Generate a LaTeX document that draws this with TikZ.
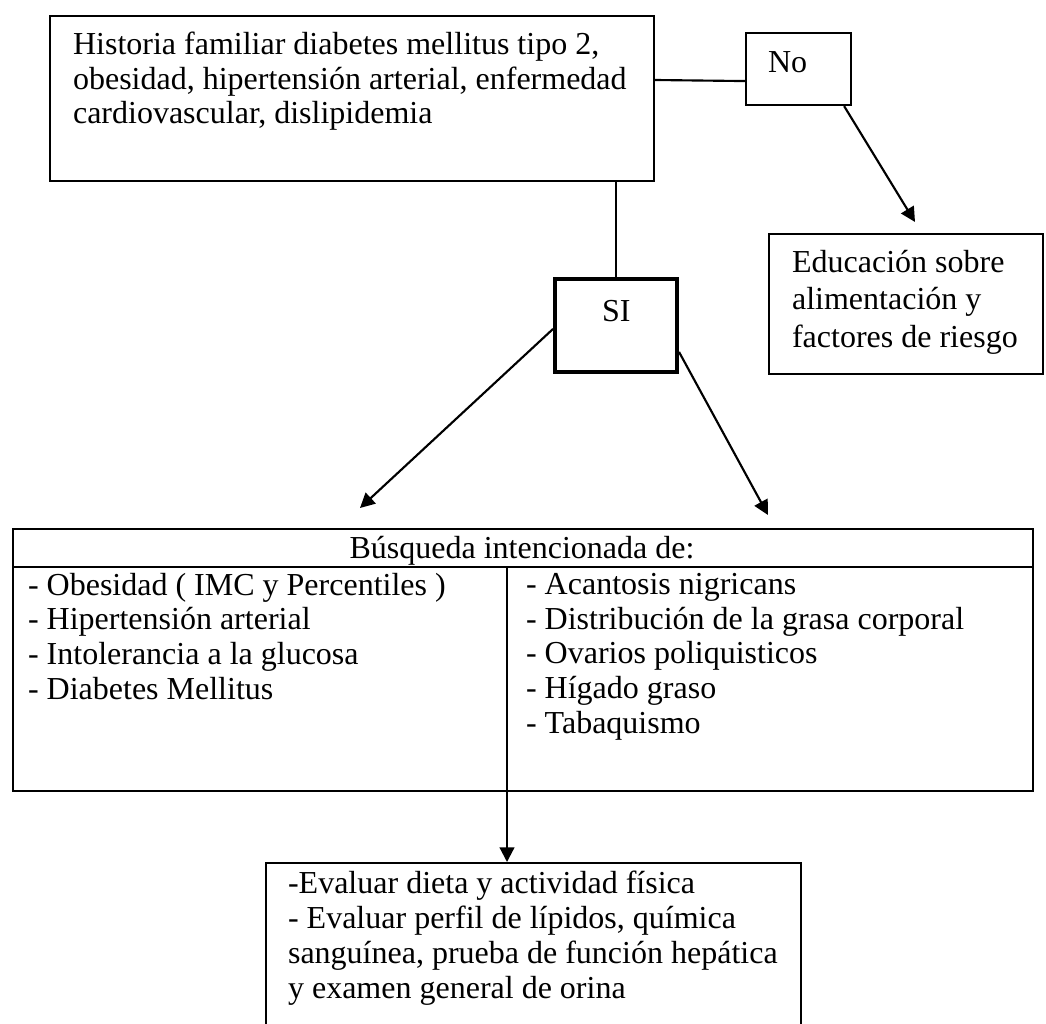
\documentclass[tikz,border=0pt]{standalone}
\usepackage{fontspec}
\setmainfont{Liberation Serif}
\usetikzlibrary{arrows.meta,calc}

\tikzset{
  box/.style={draw, line width=0.8pt, anchor=north west, inner sep=0pt},
  wh/.style 2 args={minimum width=#1*0.375pt, minimum height=#2*0.375pt},
  txt/.style={anchor=base west, align=left, inner sep=0pt, font=\fontsize{12}{13.1}\selectfont},
}

\begin{document}
\begin{tikzpicture}[x=0.375pt, y=-0.375pt, line width=0.8pt,
  >={Triangle[length=5.5pt,width=5.5pt]}]
  \useasboundingbox (0,0) rectangle (1046,1023);
  % ------- top: family history and the two answers -------
  % (multi-line texts are placed by the baseline of their last line)
  \node[box, wh={604}{165}] (historia) at (49,15) {};
  \node[txt] (historiatxt) at (72,124) {Historia familiar diabetes mellitus tipo 2,\\
    obesidad, hipertensión arterial, enfermedad\\ cardiovascular, dislipidemia};
  \node[box, wh={105}{72}] (no) at (745,32) {};
  \node[txt] (notxt) at (767,73) {No};
  \node[box, wh={122}{93}, line width=1.5pt] (si) at (553,277) {};
  \node[txt] (sitxt) at (601,321) {SI};
  \node[box, wh={274}{140}] (edu) at (768,233) {};
  \node[txt, font=\fontsize{12}{13.9}\selectfont] (edutxt) at (791,347)
    {Educación sobre\\ alimentación y\\ factores de riesgo};
  \draw (historia.east |- 0,80) -- ([yshift=-4.5pt]no.west);
  \draw (historia.south -| si.north) -- (si.north);
  \coordinate (edutip) at (915,222);
  \draw[->] ([xshift=-3pt]no.south east) -- (edutip);
  % ------- middle: what to look for -------
  \node[box, wh={1020}{262}] (busqueda) at (12,528) {};
  \coordinate (hdr) at (0,567);
  \coordinate (split) at (507,790);
  \draw (busqueda.west |- hdr) -- (busqueda.east |- hdr);
  \draw (split |- hdr) -- (split);
  \node[txt, anchor=base] (busqtxt) at (522,558) {Búsqueda intencionada de:};
  \node[txt, font=\fontsize{12}{12.95}\selectfont] (listaizq) at (27,699)
    {- Obesidad ( IMC y Percentiles )\\ - Hipertensión arterial\\
     - Intolerancia a la glucosa\\ - Diabetes Mellitus};
  \node[txt, font=\fontsize{12}{12.95}\selectfont] (listader) at (525,733)
    {- Acantosis nigricans\\ - Distribución de la grasa corporal\\
     - Ovarios poliquisticos\\ - Hígado graso\\ - Tabaquismo};
  \coordinate (busqizq) at (360,508);
  \coordinate (busqder) at (768,515);
  \draw[->] ([yshift=-1.3pt]si.west) -- (busqizq);
  \draw[->] ([yshift=-9.9pt]si.east) -- (busqder);
  % ------- bottom: evaluation -------
  \node[box, wh={535}{170}] (evaluar) at (265,862) {};
  \node[txt] (evaluartxt) at (287,998) {-Evaluar dieta y actividad física\\
    - Evaluar perfil de lípidos, química\\ sanguínea, prueba de función hepática\\
    y examen general de orina};
  \draw[->] (split) -- (split |- evaluar.north);
\end{tikzpicture}
\end{document}
